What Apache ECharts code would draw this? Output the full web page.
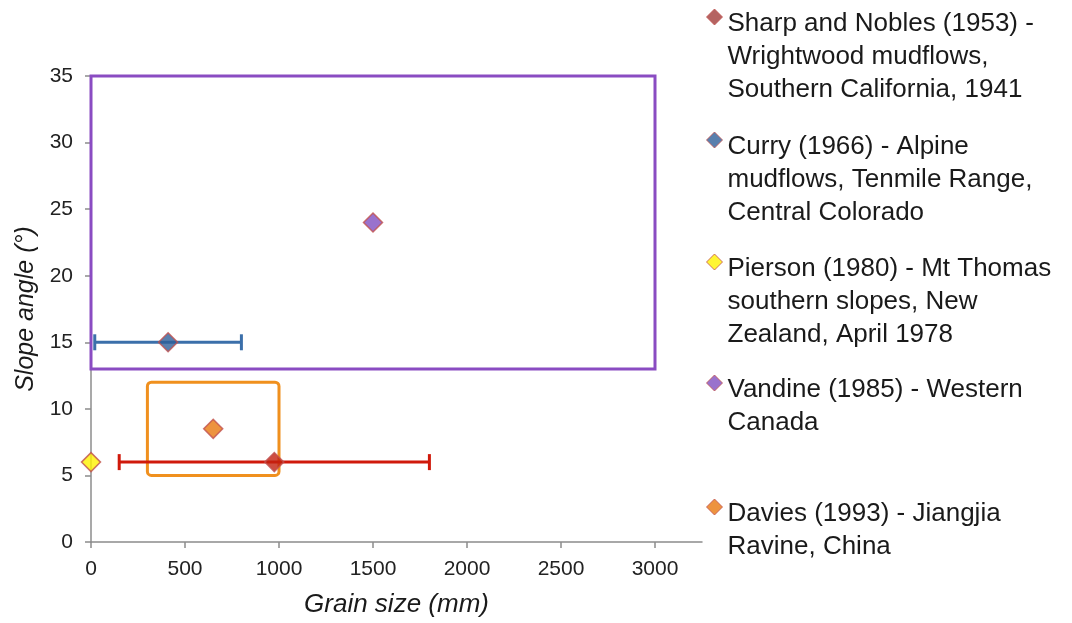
<!DOCTYPE html>
<html>
<head>
<meta charset="utf-8">
<script src="https://cdn.jsdelivr.net/npm/echarts@6/dist/echarts.min.js"></script>
<style>
html,body{margin:0;padding:0;background:#fff;}
#main{width:1072px;height:623px;}
</style>
</head>
<body>
<div id="main"></div>
<script>
// ---- data ----
const seriesNames = [
  'Sharp and Nobles (1953) -\nWrightwood mudflows,\nSouthern California, 1941',
  'Curry (1966) - Alpine\nmudflows, Tenmile Range,\nCentral Colorado',
  'Pierson (1980) - Mt Thomas\nsouthern slopes, New\nZealand, April 1978',
  'Vandine (1985) - Western\nCanada',
  'Davies (1993) - Jiangjia\nRavine, China'
];
const sharpPoint = [975, 6];
const curryPoint = [410, 15];
const piersonPoint = [0, 6];
const vandinePoint = [1500, 24];
const daviesPoint = [650, 8.5];
// horizontal error ranges [xLow, xHigh, y]
const sharpErr = [150, 1800, 6];
const curryErr = [20, 800, 15];
// boxes [xMin, xMax, yMin, yMax]
const vandineBox = [0, 3000, 13, 35];
const daviesBox = [300, 1000, 5, 12];
const xTicks = [0, 500, 1000, 1500, 2000, 2500, 3000];
const yTicks = [0, 5, 10, 15, 20, 25, 30, 35];

const colors = ['#C3200F', '#2F5F98', '#FFF200', '#7F4FC0', '#E8780F'];
const legendColors = ['#A23C39', '#2F5F98', '#FFF200', '#7F4FC0', '#E8780F'];
const markerBorder = '#C0504D';
const FONT = 'Liberation Sans, Arial, sans-serif';

const chart = echarts.init(document.getElementById('main'));

function errBarSeries(err, color) {
  return {
    type: 'custom',
    silent: true,
    z: 3,
    clip: false,
    data: [err],
    renderItem: function (params, api) {
      const p0 = api.coord([api.value(0), api.value(2)]);
      const p1 = api.coord([api.value(1), api.value(2)]);
      const h = 8;
      const st = {stroke: color, lineWidth: 3};
      return {
        type: 'group',
        children: [
          {type: 'line', shape: {x1: p0[0], y1: p0[1], x2: p1[0], y2: p1[1]}, style: st},
          {type: 'line', shape: {x1: p0[0], y1: p0[1] - h, x2: p0[0], y2: p0[1] + h}, style: st},
          {type: 'line', shape: {x1: p1[0], y1: p1[1] - h, x2: p1[0], y2: p1[1] + h}, style: st}
        ]
      };
    }
  };
}

function boxSeries(box, color, r) {
  return {
    type: 'custom',
    silent: true,
    z: 2,
    clip: false,
    data: [box],
    renderItem: function (params, api) {
      const a = api.coord([api.value(0), api.value(3)]);
      const b = api.coord([api.value(1), api.value(2)]);
      return {
        type: 'rect',
        shape: {x: a[0], y: a[1], width: b[0] - a[0], height: b[1] - a[1], r: r},
        style: {fill: 'none', stroke: color, lineWidth: 3}
      };
    }
  };
}

function scatterSeries(i, pt) {
  return {
    name: seriesNames[i],
    type: 'scatter',
    z: 5,
    clip: false,
    symbol: 'diamond',
    symbolSize: 19,
    itemStyle: {color: colors[i], borderColor: markerBorder, borderWidth: 1.5},
    data: [pt]
  };
}

// legend icon centres (y); the legend text's first line sits beside the icon
const legendIconY = [17, 140, 262, 383, 507];
const LH = 33;
const legends = seriesNames.map(function (n, i) {
  const lines = n.split('\n').length;
  // spacer above the text so that the first line lines up with the icon
  const spacer = 2 * ((lines - 1) * LH / 2 + 7);
  const boxH = spacer + lines * LH;
  return {
    orient: 'vertical',
    left: 706,
    top: legendIconY[i] - boxH / 2,
    padding: 0,
    itemWidth: 16,
    itemHeight: 16,
    selectedMode: false,
    data: [{name: n, icon: 'diamond', itemStyle: {color: legendColors[i], borderColor: markerBorder, borderWidth: 1}}],
    formatter: function (name) {
      return '{sp|\u00a0}\n' + name.split('\n').map(function (s) { return '{t|' + s + '}'; }).join('\n');
    },
    textStyle: {
      fontFamily: FONT, fontSize: 26, color: '#1a1a1a', lineHeight: LH,
      rich: {
        sp: {fontSize: 2, lineHeight: spacer, height: spacer},
        t: {fontFamily: FONT, fontSize: 26, color: '#1a1a1a', lineHeight: LH}
      }
    }
  };
});

chart.setOption({
  backgroundColor: '#fff',
  animation: false,
  legend: legends,
  grid: {left: 91, right: 370, top: 76, bottom: 80},
  xAxis: {
    type: 'value',
    min: 0,
    max: 3250,
    interval: 500,
    name: 'Grain size (mm)',
    nameLocation: 'middle',
    nameGap: 50,
    nameTextStyle: {fontFamily: FONT, fontSize: 26, fontStyle: 'italic', color: '#1a1a1a'},
    axisLine: {show: true, lineStyle: {color: '#8c8c8c', width: 1.5}},
    axisTick: {show: true, length: 6, lineStyle: {color: '#8c8c8c', width: 1.5}, customValues: xTicks},
    axisLabel: {fontFamily: FONT, fontSize: 21, color: '#222', margin: 17, customValues: xTicks,
      formatter: function (v) { return String(v); }},
    splitLine: {show: false}
  },
  yAxis: {
    type: 'value',
    min: 0,
    max: 35,
    interval: 5,
    name: 'Slope angle (°)',
    nameLocation: 'middle',
    nameGap: 47,
    nameTextStyle: {fontFamily: FONT, fontSize: 25, fontStyle: 'italic', color: '#1a1a1a'},
    axisLine: {show: true, lineStyle: {color: '#8c8c8c', width: 1.5}},
    axisTick: {show: true, length: 6, lineStyle: {color: '#8c8c8c', width: 1.5}, customValues: yTicks},
    axisLabel: {fontFamily: FONT, fontSize: 21, color: '#222', margin: 18, customValues: yTicks,
      formatter: function (v) { return String(v); }},
    splitLine: {show: false}
  },
  series: [
    boxSeries(vandineBox, '#8A4CC2', 0),
    boxSeries(daviesBox, '#F0901E', 4),
    errBarSeries(curryErr, '#3B6FAA'),
    errBarSeries(sharpErr, '#D0190B'),
    scatterSeries(0, sharpPoint),
    scatterSeries(1, curryPoint),
    scatterSeries(2, piersonPoint),
    scatterSeries(3, vandinePoint),
    scatterSeries(4, daviesPoint)
  ]
});
</script>
</body>
</html>
